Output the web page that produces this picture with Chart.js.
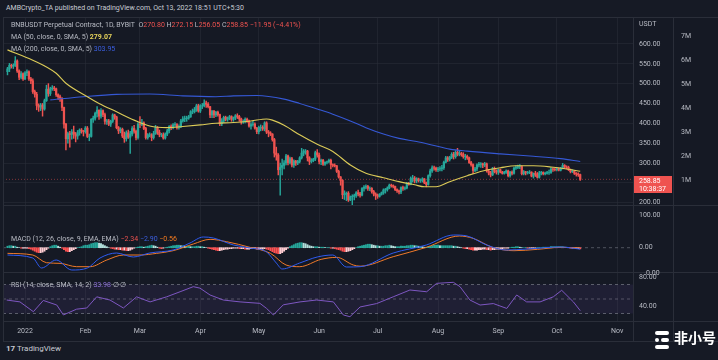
<!DOCTYPE html>
<html lang="en">
<head>
<meta charset="UTF-8">
<title>BNBUSDT Perpetual Contract, 1D</title>
<style>
  body { margin: 0; width: 718px; height: 360px; overflow: hidden; background: #161a25; font-family: Roboto, "Noto Sans", sans-serif; position: relative; }
  #wrap { position: absolute; left: 3px; top: 17px; width: 715px; height: 324px; background: #151924; }
  #chart { position: absolute; left: 0; top: 0; }
  .t { position: absolute; white-space: nowrap; font-size: 7px; line-height: 8px; color: #b8bbc4; }
  .hl { position: absolute; height: 1px; background: #2a2e39; }
  .vl { position: absolute; width: 1px; background: #2a2e39; }
  .r { color: #ef5350; }
  .y { color: #e6d35b; font-weight: bold; }
  .b { color: #3b5fe0; }
  .o { color: #f57c1f; }
  .p { color: #8b6fd6; }
  #pbox { position: absolute; left: 634px; top: 176px; width: 38px; height: 17px; background: #ef5350; color: #fff; font-size: 7px; line-height: 8px; padding-left: 5px; box-sizing: border-box; padding-top: 1px; }
  #wm { position: absolute; left: 674px; top: 328px; font-family: "Noto Sans CJK SC", sans-serif; font-weight: bold; font-size: 14px; color: #fff; line-height: 18px; }
  .bar { position: absolute; background: #fff; border-radius: 2px; height: 4px; }
</style>
</head>
<body>
<div class="t" style="left:6px; top:4px; color:#c9ccd4;">AMBCrypto_TA published on TradingView.com, Oct 13, 2022 18:51 UTC+5:30</div>
<div id="wrap"><canvas id="chart" width="715" height="324"></canvas></div>

<div class="hl" style="left:3px; top:17px; width:715px;"></div>
<div class="hl" style="left:3px; top:205px; width:715px;"></div>
<div class="hl" style="left:3px; top:272px; width:715px;"></div>
<div class="hl" style="left:3px; top:321px; width:715px;"></div>
<div class="hl" style="left:3px; top:341px; width:715px;"></div>
<div class="vl" style="left:3px; top:17px; height:324px;"></div>
<div class="vl" style="left:633px; top:17px; height:324px;"></div>
<div class="vl" style="left:673px; top:17px; height:324px;"></div>

<div class="t" style="left:11px; top:21px;">BNBUSDT Perpetual Contract, 1D, BYBIT&nbsp; O<span class="r">270.80</span> H<span class="r">272.15</span> L<span class="r">256.05</span> C<span class="r">258.85</span> <span class="r">−11.95 (−4.41%)</span></div>
<div class="t" style="left:11px; top:33px;">MA (50, close, 0, SMA, 5) <span class="y">279.07</span></div>
<div class="t" style="left:11px; top:45px;">MA (200, close, 0, SMA, 5) <span class="b">303.95</span></div>
<div class="t" style="left:11px; top:235px;">MACD (12, 26, close, 9, EMA, EMA) <span class="r">−2.34</span> <span class="b">−2.90</span> <span class="o">−0.56</span></div>
<div class="t" style="left:11px; top:281px;">RSI (14, close, SMA, 14, 2) <span class="p">33.98</span> ∅ ∅</div>

<div class="t" style="left:639px; top:20px;">USDT</div>
<div class="t" style="left:639px; top:211px;">100.00</div>
<div class="t" style="left:646px; top:269px;">0.00</div>
<div id="pbox">258.85<br>10:38:37</div>

<div class="t" style="left:6px; top:345px; font-size:8px; color:#c9ccd4;"><b>17</b> TradingView</div>
<div class="bar" style="left:655px; top:331px; width:14px;"></div>
<div class="bar" style="left:655px; top:338px; width:4px;"></div>
<div class="bar" style="left:661px; top:338px; width:8px;"></div>
<div class="bar" style="left:655px; top:345px; width:14px;"></div>
<div id="wm">非小号</div>

<script src="https://cdn.jsdelivr.net/npm/chart.js"></script>
<script>
// day numbers count from Jan 1, 2022 = 0; first candle is Dec 23, 2021
const startDay = -9;
const firstOpen = 530;

const closes = [
  537,546,544,546,557,532,516,525,512,
  527,530,512,507,480,473,445,441,446,436,457,486,475,487,489,487,472,467,463,440,398,361,374,372,378,373,368,376,383,381,379,
  388,367,367,410,413,425,433,418,432,422,405,406,398,405,421,416,389,381,385,368,361,376,365,373,387,380,364,398,
  397,401,387,364,371,371,364,374,389,377,371,371,363,373,381,392,389,396,397,390,392,406,411,412,413,416,429,429,434,444,431,
  444,444,451,448,442,421,430,421,428,422,399,406,415,410,413,417,410,414,419,417,411,404,405,410,406,393,397,398,388,379,
  390,390,386,401,378,376,373,359,325,320,283,289,294,300,318,301,311,295,305,300,304,313,325,330,330,313,304,306,310,326,320,
  304,307,297,302,303,307,296,294,293,279,265,256,220,222,224,207,215,216,218,225,222,219,236,239,241,236,236,228,222,218,
  216,221,225,232,233,237,244,243,241,233,230,227,238,236,237,249,246,261,262,255,260,256,256,260,250,246,268,280,288,287,283,
  285,286,288,302,313,309,314,322,316,327,322,324,321,316,317,313,301,296,281,285,295,297,298,295,298,280,275,270,286,278,277,
  283,277,274,277,280,268,277,274,287,289,291,291,273,278,275,276,277,267,274,271,264,275,276,273,274,276,276,285,284,283,
  286,282,287,294,290,289,283,278,280,274,272,270.8,258.85
];
const highs = [
  541,551,549,550,568,560,535,530,527,
  530,535,532,516,512,484,478,449,450,450,461,496,500,491,495,493,489,474,471,465,441,400,378,380,384,393,377,382,386,387,382,
  392,392,373,412,418,428,442,434,437,434,426,410,410,408,424,423,418,392,389,388,378,381,383,380,392,395,383,402,
  417,410,404,390,374,376,374,380,395,392,383,375,376,376,385,394,396,399,402,399,396,410,417,418,418,420,432,436,440,448,448,
  447,450,459,456,452,443,433,433,430,431,423,412,418,418,416,420,419,416,422,424,420,413,409,414,413,408,402,405,401,390,
  393,396,394,404,404,382,379,374,362,340,324,300,310,306,322,320,315,314,308,307,307,316,337,334,334,332,316,311,312,330,334,
  325,310,309,303,305,310,310,298,298,294,282,266,258,230,227,228,217,220,222,228,232,226,238,243,245,244,240,238,231,225,
  222,223,227,235,236,240,247,247,245,242,235,232,240,242,240,251,251,265,269,266,263,262,260,263,261,252,270,285,293,292,290,
  289,291,294,305,317,316,317,326,327,331,337,330,327,326,322,320,315,304,298,289,298,302,301,300,302,300,284,279,289,290,283,
  285,285,279,279,283,282,279,280,290,293,295,296,293,281,279,279,281,278,275,279,276,279,279,278,277,279,282,289,288,287,
  288,287,289,299,296,293,292,285,283,281,276,275,272.15
];
const lows = [
  522,530,539,538,543,528,510,512,508,
  510,520,508,500,475,466,434,430,432,418,433,455,468,470,483,482,468,460,455,432,388,333,350,340,360,362,353,360,370,375,368,
  375,364,356,365,402,408,416,410,413,417,398,397,394,392,402,410,386,374,376,364,352,355,362,324,368,375,358,360,
  389,394,384,360,360,366,356,360,372,372,366,366,360,360,369,376,384,386,392,385,385,389,403,404,405,410,415,424,426,430,428,
  427,437,441,440,439,414,414,414,417,418,394,394,402,406,405,409,405,405,409,412,405,398,400,401,402,390,385,393,385,374,
  373,381,382,381,374,366,369,355,315,307,270,219,270,285,295,295,298,290,289,294,296,300,310,318,322,305,296,300,303,306,315,
  298,296,294,294,298,300,285,290,290,276,262,244,210,208,205,203,205,194,207,213,217,214,217,229,235,231,230,224,217,208,
  211,214,219,221,224,229,235,239,237,230,226,222,223,231,232,235,244,245,252,250,250,252,251,252,248,240,244,264,276,282,279,
  278,280,280,284,300,304,305,311,310,312,318,318,317,312,308,309,299,292,273,278,280,290,289,288,291,277,270,265,268,275,272,
  271,275,272,272,274,265,264,270,272,284,286,286,270,270,270,272,273,265,262,266,262,262,270,270,270,272,271,274,279,280,
  280,280,280,285,286,285,281,275,276,271,267,266,256.05
];

const ma50Days = [-9,4,16,21,32,38,47,56,64,73,81,90,98,107,116,124,127,133,141,150,158,167,175,184,192,200,205,211,218,227,235,244,252,261,270,278,285];
const ma50 = [585,559,526,501,467,450,429,408,393,389,392,396,400,402,406,411,408,395,371,347,329,295,274,263,253,245,240,240,253,268,280,288,293,293,290,285,279.07];

const ma200Days = [13,30,47,64,81,98,107,119,133,141,150,158,167,175,184,192,201,210,218,227,244,261,275,285];
const ma200 = [459,467,473,474,469,467,469,470,461,450,436,423,406,389,373,362,354,344,335,330,323,317,311,303.95];

const macdDays = [-9,4,8.5,16,24,32,38.5,47,55.6,64,76,84.7,91.5,96.7,107,115.5,124,129,132,141,150,158,165,172,189,206,220,227,237,247,258,275,285];
const macdLine = [-14.6,-20.6,-40.6,-24.6,-44.6,-40.6,-20.6,-10.6,-18.6,-10.6,-4.6,9.4,21.4,19.4,5.4,-0.6,-8.6,-30.6,-42.6,-30.6,-18.6,-14.6,-38.6,-38,-10.6,5.4,25.4,23.4,5.4,-4.6,-2.6,1.4,-2.9];
const signalDays = [-9,4,11,18,26.5,33.5,42,50.5,59,67.6,76,86.4,95,103.5,115.5,126,134,141,152,160,168.5,172,189,206,223,230,240,251,263,275,285];
const signalLine = [-11.3,-14.6,-30,-31.3,-38,-38,-24.6,-14.6,-14.6,-11.3,-6,7.4,16.7,12,0.7,-11.3,-34.6,-38,-23.3,-19.3,-34.6,-37,-18,0.7,23.4,18.7,0.7,-6,-3.3,0.7,-0.56];

const histVals = [
  3,4,4,3,3,1,0,-1,-1,
  -1,-1,-2,-3,-5,-7,-9,-10,-10,-9,-7,-4,-1,2,4,5,5,3,1,-1,-4,-7,-8,-8,-6,-4,-2,0,1,2,4,
  5,5,6,8,9,10,10,9,8,6,4,2,0,-1,-2,-3,-3,-4,-4,-5,-5,-6,-6,-5,-3,-1,0,1,
  2,2,1,2,3,4,5,4,3,1,-1,-2,-1,0,1,2,3,4,4,5,5,4,4,3,3,3,2,2,2,3,3,
  2,2,1,0,-1,-2,-3,-4,-5,-6,-6,-5,-4,-3,-3,-2,-2,-1,-1,-1,-2,-2,-2,-3,-3,-3,-2,-2,-2,-3,
  -3,-3,-3,-2,-3,-4,-6,-8,-10,-11,-12,-12,-10,-7,-4,-1,2,4,6,8,9,10,10,9,8,6,4,3,2,2,2,
  1,1,1,0,0,0,-1,-1,-2,-3,-4,-5,-7,-8,-8,-7,-6,-4,-2,0,2,3,4,5,6,7,7,6,5,4,
  4,3,3,3,4,4,5,4,3,2,2,2,3,3,3,4,4,5,5,4,4,3,3,2,1,1,2,3,4,5,5,
  5,4,4,4,4,4,4,4,3,3,2,1,0,-1,-2,-2,-3,-4,-5,-5,-5,-4,-4,-3,-3,-4,-4,-5,-4,-4,-3,
  -3,-2,-2,-1,-1,-1,0,1,1,2,2,1,0,0,0,-1,-1,-1,-1,-1,0,0,0,1,1,1,1,2,2,2,
  2,2,2,2,1,1,0,-1,-1,-2,-2,-2,-2.34
];

const rsiDays = [-9.4,-2.6,4.3,9.4,16.3,19.7,26.5,31.7,36.8,43.6,50.5,57.3,64.2,72.7,79.6,86.4,89.8,95,101.8,110.4,120.6,124,127.5,132.6,141.2,149.7,158.3,163.4,166.8,172,180.5,189,197.6,206.2,211.3,219.9,223.3,228.4,233.6,240.4,247.3,252.4,257.5,264.4,271.2,275.5,281.5,285];
const rsiVals = [48.6,46,32.5,48,41.7,28,36,37.6,53,48.6,37.6,53,46,53,60,67,65,55.5,48.6,46,44,37,28,42,46,48.6,46,28,25.6,39,43.7,53,62.4,60,71.6,73,67,48.6,41.7,43.7,37,55.5,46,46,53,62,46,33.98];

const monthDays = [0, 31, 59, 90, 120, 151, 181, 212, 243, 273, 304];
const monthLabels = ['2022', 'Feb', 'Mar', 'Apr', 'May', 'Jun', 'Jul', 'Aug', 'Sep', 'Oct', 'Nov'];
const priceTicks = [200, 250, 300, 350, 400, 450, 500, 550, 600];
const volTicks = [1, 2, 3, 4, 5, 6, 7];
const rsiTicks = [80, 40];
const rsiLevels = [70, 50, 30];
const lastPrice = 258.85;

const X_MIN = -11.3, X_MAX = 312.1;
const UP = '#26a69a', DOWN = '#ef5350';
const GRID = 'rgba(42,46,57,0.55)';
const TXT = '#b8bbc4';
const tickFont = { family: 'Roboto', size: 7 };

const days = closes.map((c, i) => startDay + i);
const opens = closes.map((c, i) => (i === 0 ? firstOpen : closes[i - 1]));
const candleColors = closes.map((c, i) => (c >= opens[i] ? UP : DOWN));
const histColors = histVals.map((v, i) => {
  const prev = i ? histVals[i - 1] : v;
  if (v >= 0) return v >= prev ? '#26a69a' : '#b2dfdb';
  return v < prev ? '#ff5252' : '#ffcdd2';
});

const pairs = (xs, ys) => xs.map((x, i) => ({ x: x, y: ys[i] }));
const hline = v => [{ x: X_MIN, y: v }, { x: X_MAX, y: v }];
const setTicks = list => axis => { axis.ticks = list.map(v => ({ value: v })); };
// keep Chart.js from reserving room for half tick labels at the pane edges
const fitWidth = w => s => { s.width = w; s.paddingTop = 0; s.paddingBottom = 0; };

function yAxis(extra) {
  return Object.assign({
    type: 'linear', position: 'right', stack: 'panes', offset: false,
    grid: { display: false, drawTicks: false },
    border: { display: false },
    ticks: { color: TXT, font: tickFont, padding: 6, autoSkip: false, callback: v => v.toFixed(2) },
    afterFit: fitWidth(40)
  }, extra);
}

new Chart(document.getElementById('chart'), {
  type: 'bar',
  data: {
    datasets: [
      { type: 'line', yAxisID: 'price', data: pairs(ma50Days, ma50), borderColor: '#dccb58', borderWidth: 1.1, pointRadius: 0, cubicInterpolationMode: 'monotone', order: 0 },
      { type: 'line', yAxisID: 'price', data: pairs(ma200Days, ma200), borderColor: '#3558d4', borderWidth: 1.1, pointRadius: 0, cubicInterpolationMode: 'monotone', order: 0 },
      { type: 'bar', yAxisID: 'price', data: days.map((d, i) => ({ x: d, y: [opens[i], closes[i]] })), backgroundColor: candleColors, barThickness: 1.6, grouped: false, order: 2 },
      { type: 'bar', yAxisID: 'price', data: days.map((d, i) => ({ x: d, y: [lows[i], highs[i]] })), backgroundColor: candleColors, barThickness: 0.8, grouped: false, order: 3 },
      { type: 'line', yAxisID: 'price', data: hline(lastPrice), borderColor: 'rgba(239,83,80,0.5)', borderWidth: 1, borderDash: [1, 2], pointRadius: 0, order: 4 },

      { type: 'line', yAxisID: 'macd', data: hline(0), borderColor: 'rgba(120,123,134,0.6)', borderWidth: 1, borderDash: [3, 3], pointRadius: 0, order: 6 },
      { type: 'bar', yAxisID: 'macd', data: days.map((d, i) => ({ x: d, y: histVals[i] })), backgroundColor: histColors, barThickness: 1.3, grouped: false, order: 5 },
      { type: 'line', yAxisID: 'macd', data: pairs(macdDays, macdLine), borderColor: '#2f5bf0', borderWidth: 1, pointRadius: 0, cubicInterpolationMode: 'monotone', order: 1 },
      { type: 'line', yAxisID: 'macd', data: pairs(signalDays, signalLine), borderColor: '#f07a2a', borderWidth: 1, pointRadius: 0, cubicInterpolationMode: 'monotone', order: 1 },

      { type: 'line', yAxisID: 'rsi', data: hline(rsiLevels[0]), borderColor: 'rgba(120,123,134,0.7)', borderWidth: 1, borderDash: [3, 3], pointRadius: 0, order: 6 },
      { type: 'line', yAxisID: 'rsi', data: hline(rsiLevels[2]), borderColor: 'rgba(120,123,134,0.7)', borderWidth: 1, borderDash: [3, 3], pointRadius: 0, fill: '-1', backgroundColor: 'rgba(126,87,194,0.1)', order: 6 },
      { type: 'line', yAxisID: 'rsi', data: hline(rsiLevels[1]), borderColor: 'rgba(120,123,134,0.6)', borderWidth: 1, borderDash: [3, 3], pointRadius: 0, order: 6 },
      { type: 'line', yAxisID: 'rsi', data: pairs(rsiDays, rsiVals), borderColor: '#7e57c2', borderWidth: 1, pointRadius: 0, order: 1 }
    ]
  },
  options: {
    responsive: false,
    animation: false,
    layout: { padding: 0 },
    plugins: { legend: { display: false }, tooltip: { enabled: false } },
    scales: {
      x: {
        type: 'linear', position: 'bottom', min: X_MIN, max: X_MAX, offset: false,
        grid: { color: GRID, drawTicks: false, offset: false },
        border: { display: false },
        ticks: { color: TXT, font: tickFont, padding: 6, maxRotation: 0, autoSkip: false,
                 callback: v => monthLabels[monthDays.indexOf(v)] || '' },
        afterBuildTicks: setTicks(monthDays),
        afterFit: s => { s.height = 20; s.paddingLeft = 0; s.paddingRight = 0; }
      },
      price: yAxis({ stackWeight: 188, min: 194.2, max: 667.8,
                     grid: { display: true, color: GRID, drawTicks: false },
                     afterBuildTicks: setTicks(priceTicks) }),
      // thin empty pane between the price pane and MACD; its "100.00" label sits in the page
      blank: yAxis({ stackWeight: 21, min: 0, max: 200, ticks: { display: false } }),
      macd: yAxis({ stackWeight: 46, min: -48.6, max: 43.4, afterBuildTicks: setTicks([0]) }),
      rsi: yAxis({ stackWeight: 49, min: 19.66, max: 87.24, afterBuildTicks: setTicks(rsiTicks) }),
      vol: {
        type: 'linear', position: 'right', min: -4.875, max: 7.7917,
        grid: { display: false, drawTicks: false },
        border: { display: false },
        ticks: { color: TXT, font: tickFont, padding: 8, autoSkip: false, callback: v => v + 'M' },
        afterBuildTicks: setTicks(volTicks),
        afterFit: fitWidth(45)
      }
    }
  }
});
</script>
</body>
</html>
